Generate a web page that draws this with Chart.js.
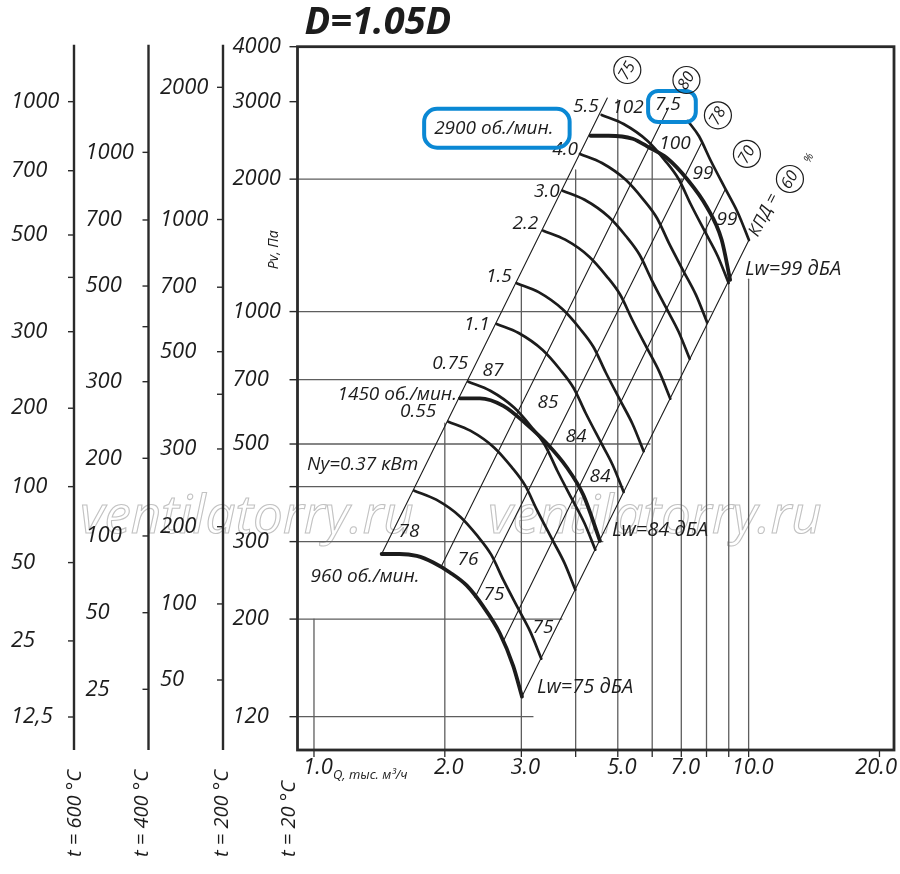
<!DOCTYPE html>
<html lang="ru">
<head>
<meta charset="utf-8">
<title>D=1.05D</title>
<script src="https://cdn.jsdelivr.net/npm/chart.js@4.4.1/dist/chart.umd.min.js"></script>
<style>
  html, body { margin: 0; padding: 0; background: #fff; }
  #chartBox { width: 900px; height: 874px; }
</style>
</head>
<body>
<div id="chartBox"><canvas id="fanChart" width="900" height="874"></canvas></div>
<script>
// 軸の範囲 (Q, тыс. м3/ч と Pv, Па)
const qMin = 0.9164, qMax = 21.6;
const pMin = 100.8, pMax = 4000;

// 回転数ごとの特性曲線
const q960 = [1.431, 1.574, 1.723, 1.881, 2.055, 2.245, 2.451, 2.678, 2.873, 3.010];
const p960 = [281.2, 281.2, 278.3, 269.0, 255.3, 238.5, 213.7, 185.5, 156.5, 133.3];
const q1450 = [2.167, 2.409, 2.726, 3.085, 3.430, 3.814, 4.164, 4.550];
const p1450 = [635.2, 635.2, 610.7, 554.3, 501.8, 442.7, 383.3, 301.3];
const q2900 = [4.330, 4.763, 5.409, 5.918, 6.476, 7.238, 8.006, 8.668, 9.066];
const p2900 = [2510, 2510, 2471, 2357, 2237, 1994, 1731, 1456, 1181];
const speedNames = ['960 об./мин.', '1450 об./мин.', '2900 об./мин.'];

// 電動機出力 Ny ごとの曲線
const qN037 = [1.701, 1.911, 2.170, 2.375, 2.557, 2.725, 2.951, 3.145, 3.334];
const pN037 = [391.7, 373.6, 341.8, 309.4, 280.2, 245.8, 211.2, 187.3, 162.6];
const qN055 = [2.037, 2.289, 2.599, 2.844, 3.062, 3.264, 3.534, 3.766, 3.992];
const pN055 = [562.0, 536.1, 490.5, 444.0, 402.0, 352.7, 303.1, 268.7, 233.3];
const qN075 = [2.265, 2.545, 2.890, 3.162, 3.405, 3.629, 3.929, 4.187, 4.439];
const pN075 = [692.8, 660.9, 604.6, 547.3, 495.6, 434.7, 373.6, 331.2, 287.6];
const qN110 = [2.632, 2.957, 3.358, 3.675, 3.957, 4.217, 4.566, 4.866, 5.158];
const pN110 = [937.2, 894.0, 817.9, 740.4, 670.4, 588.1, 505.4, 448.1, 389.0];
const qN150 = [2.926, 3.288, 3.733, 4.085, 4.399, 4.688, 5.076, 5.409, 5.734];
const pN150 = [1160, 1107, 1012, 916.4, 829.7, 727.9, 625.6, 554.6, 481.5];
const qN220 = [3.369, 3.785, 4.298, 4.704, 5.065, 5.398, 5.845, 6.228, 6.603];
const pN220 = [1527, 1457, 1333, 1206, 1092, 958.2, 823.5, 730.1, 633.9];
const qN300 = [3.733, 4.194, 4.763, 5.212, 5.612, 5.981, 6.476, 6.901, 7.316];
const pN300 = [1882, 1795, 1642, 1487, 1346, 1181, 1015, 899.8, 781.2];
const qN400 = [4.092, 4.598, 5.221, 5.713, 6.152, 6.556, 7.099, 7.565, 8.020];
const pN400 = [2281, 2176, 1991, 1802, 1632, 1431, 1230, 1091, 946.8];
const qN550 = [4.590, 5.157, 5.856, 6.409, 6.901, 7.354, 7.963, 8.486, 8.996];
const pN550 = [2798, 2669, 2442, 2210, 2001, 1756, 1509, 1338, 1161];
const qN750 = [7.248, 7.684, 8.189, 8.867, 9.449, 10.016];
const pN750 = [2711, 2506, 2199, 1890, 1675, 1454.5];
const powerNames = ['Ny=0.37 кВт', '0.55', '0.75', '1.1', '1.5', '2.2', '3.0', '4.0', '5.5'];
const label75Q = 6.522, label75P = 2948;

// 効率線 (КПД, %) の下端と上端
const effLabels = ['75', '80', '78', '70', '60'];
const effQ0 = [1.431, 1.957, 2.347, 2.726, 3.010];
const effP0 = [281.2, 262.0, 224.0, 178.0, 133.3];
const effQ1 = [4.730, 6.539, 7.808, 8.820, 10.016];
const effP1 = [3058, 2902, 2425, 1890, 1454.5];

// 騒音レベル Lw のラベル
const lwLabels = ['78', '76', '75', '75', '87', '85', '84', '84', '102', '100', '99', '99'];
const lwQ = [1.654, 2.261, 2.595, 3.364, 2.581, 3.454, 4.006, 4.549, 5.276, 6.770, 7.851, 8.914];
const lwP = [315.5, 272.5, 226.9, 190.9, 732.8, 619.7, 518.8, 420.7, 2902, 2404, 2054, 1615];
const lwTotalLabels = ['Lw=75 дБА', 'Lw=84 дБА', 'Lw=99 дБА'];
const lwTotalQ = [3.258, 4.847, 9.806];
const lwTotalP = [140.2, 318.9, 1250];

// 補助グリッド線
const hGridP = [2000, 1000, 700, 500, 400, 300, 200, 120];
const hGridEndQ = [7.06, 8.24, 7.03, 5.93, 5.14, 4.62, 3.72, 3.19];
const vGridQ = [1, 2, 3, 4, 5, 6, 7, 8, 9, 10];
const vGridTopP = [200, 558, 1149, 2098, 3030, 2305, 2000, 1641, 1180, 1185];

// 目盛り
const xTicks = [1, 2, 3, 4, 5, 6, 7, 8, 9, 10, 20];
const xTickLabels = ['1.0', '2.0', '3.0', '', '5.0', '', '7.0', '', '', '10.0', '20.0'];
const yTicks = [4000, 3000, 2000, 1000, 700, 500, 400, 300, 200, 120];
const yTickLabels = ['4000', '3000', '2000', '1000', '700', '500', '', '300', '200', '120'];

// 温度別の圧力目盛り (主軸上の位置 Pv で指定)
const t200Labels = ['2000', '1000', '700', '500', '', '300', '200', '100', '50'];
const t200At = [3234, 1619, 1136, 810.6, 648.7, 487.2, 324.4, 216.5, 145.4];
const t400Labels = ['1000', '700', '500', '', '300', '200', '100', '50', '25'];
const t400At = [2301, 1615, 1143, 924, 692.8, 464, 309, 206.8, 138.5];
const t600Labels = ['1000', '700', '500', '', '300', '200', '100', '50', '25', '12,5'];
const t600At = [3000, 2090, 1493, 1196, 900, 603, 400, 268.8, 178.4, 119.8];

const FONT = '"Open Sans", "Noto Sans", sans-serif';
const INK = '#1c1c1c';
const GRID_COLOR = '#5e5e5e';
const BLUE = '#0a88d4';
const WATERMARK = 'ventilatorry.ru';

// 折れ線データセットを作る関数
function makeLine(qs, ps, color, width, order, smooth) {
  return {
    data: qs.map((q, i) => ({ x: q, y: ps[i] })),
    showLine: true,
    borderColor: color,
    borderWidth: width,
    pointRadius: 0,
    fill: false,
    order: order,
    tension: 0,
    cubicInterpolationMode: smooth ? 'monotone' : 'default',
    borderCapStyle: 'round',
  };
}

function drawText(ctx, s, x, y, size, align, weight) {
  ctx.font = `italic ${weight || 'normal'} ${size}px ${FONT}`;
  ctx.textAlign = align || 'left';
  ctx.textBaseline = 'middle';
  ctx.fillStyle = INK;
  ctx.fillText(s, x, y);
  return ctx.measureText(s).width;
}

function drawRotated(ctx, s, x, y, angle, size, align) {
  ctx.save();
  ctx.translate(x, y);
  ctx.rotate(angle);
  drawText(ctx, s, 0, 0, size, align);
  ctx.restore();
}

function blueBox(ctx, x0, y0, x1, y1, r) {
  ctx.save();
  ctx.strokeStyle = BLUE;
  ctx.lineWidth = 4;
  ctx.beginPath();
  ctx.moveTo(x0 + r, y0);
  ctx.arcTo(x1, y0, x1, y1, r);
  ctx.arcTo(x1, y1, x0, y1, r);
  ctx.arcTo(x0, y1, x0, y0, r);
  ctx.arcTo(x0, y0, x1, y0, r);
  ctx.closePath();
  ctx.stroke();
  ctx.restore();
}

const speedQ = [q960, q1450, q2900];
const speedP = [p960, p1450, p2900];
const powerQ = [qN037, qN055, qN075, qN110, qN150, qN220, qN300, qN400, qN550, qN750];
const powerP = [pN037, pN055, pN075, pN110, pN150, pN220, pN300, pN400, pN550, pN750];

const datasets = [];
hGridP.forEach((p, i) => datasets.push(makeLine([qMin, hGridEndQ[i]], [p, p], GRID_COLOR, 1.3, 5)));
vGridQ.forEach((q, i) => datasets.push(makeLine([q, q], [pMin, vGridTopP[i]], GRID_COLOR, 1.3, 5)));
effLabels.forEach((_, i) => datasets.push(makeLine([effQ0[i], effQ1[i]], [effP0[i], effP1[i]], INK, 1.1, 4)));
powerQ.forEach((qs, i) => datasets.push(makeLine(qs, powerP[i], INK, 2.7, 3, true)));
speedQ.forEach((qs, i) => datasets.push(makeLine(qs, speedP[i], INK, 3.8, 1, true)));

// 文字や軸を描くプラグイン
const nomogramPlugin = {
  id: 'nomogram',
  beforeDatasetsDraw(chart) {
    const ctx = chart.ctx;
    ctx.save();
    ctx.font = `italic 53px ${FONT}`;
    ctx.strokeStyle = '#c2c2c2';
    ctx.lineWidth = 1.1;
    ctx.textAlign = 'left';
    ctx.textBaseline = 'alphabetic';
    ctx.strokeText(WATERMARK, 80, 533);
    ctx.strokeText(WATERMARK, 488, 533);
    ctx.restore();
  },
  afterDatasetsDraw(chart) {
    const ctx = chart.ctx;
    const area = chart.chartArea;
    const sx = chart.scales.x;
    const sy = chart.scales.y;
    const at = (q, p) => [sx.getPixelForValue(q), sy.getPixelForValue(p)];
    ctx.save();
    ctx.strokeStyle = '#2a2a2a';

    // 枠
    ctx.lineWidth = 2.8;
    ctx.strokeRect(area.left, area.top, area.right - area.left, area.bottom - area.top);

    // Y軸 (t = 20 °C)
    ctx.lineWidth = 1.4;
    yTicks.forEach((v, i) => {
      const y = sy.getPixelForValue(v);
      ctx.beginPath(); ctx.moveTo(area.left - 8, y); ctx.lineTo(area.left, y); ctx.stroke();
      if (yTickLabels[i]) drawText(ctx, yTickLabels[i], area.left - 65, y, 22, 'left');
    });

    // 温度別の軸
    const tempAxes = [[t200Labels, t200At], [t400Labels, t400At], [t600Labels, t600At]];
    const tempTitles = ['t = 200 °C', 't = 400 °C', 't = 600 °C'];
    const titleShift = [-1, -6, 1];
    tempAxes.forEach(([labels, pos], k) => {
      const ax = area.left - 74.5 * (k + 1);
      ctx.lineWidth = 2.4;
      ctx.beginPath(); ctx.moveTo(ax, area.top - 2); ctx.lineTo(ax, area.bottom); ctx.stroke();
      ctx.lineWidth = 1.4;
      pos.forEach((p, i) => {
        const y = sy.getPixelForValue(p);
        ctx.beginPath(); ctx.moveTo(ax - 6, y); ctx.lineTo(ax, y); ctx.stroke();
        if (labels[i]) drawText(ctx, labels[i], ax - 63, y, 22, 'left');
      });
      drawRotated(ctx, tempTitles[k], ax + titleShift[k], area.bottom + 107, -Math.PI / 2, 20, 'left');
    });
    drawRotated(ctx, 't = 20 °C', area.left - 8, area.bottom + 107, -Math.PI / 2, 20, 'left');
    drawRotated(ctx, 'Pv, Па', area.left - 23, area.top + 203, -Math.PI / 2, 14, 'center');

    // X軸
    ctx.lineWidth = 1.3;
    xTicks.forEach((v, i) => {
      const x = sx.getPixelForValue(v);
      ctx.beginPath(); ctx.moveTo(x, area.bottom); ctx.lineTo(x, area.bottom + 7); ctx.stroke();
      if (xTickLabels[i]) {
        ctx.font = `italic 22px ${FONT}`;
        const w = ctx.measureText(xTickLabels[i]).width;
        drawText(ctx, xTickLabels[i], Math.min(x + 4, 897 - w / 2), area.bottom + 18, 22, 'center');
      }
    });
    drawText(ctx, 'Q, тыс. м³/ч', sx.getPixelForValue(1) + 19, area.bottom + 25, 13, 'left');

    // タイトル
    drawText(ctx, 'D=1.05D', area.left + 7, area.top - 24, 38, 'left', 'bold');

    // 出力ラベル
    const powerShift = [[4, -26], [-12, -10], [0, -18], [-7, 1], [-5, -7], [-5, -7], [-3, 1], [-2, -4], [-3, -8]];
    powerNames.forEach((s, i) => {
      const [x, y] = at(powerQ[i][0], powerP[i][0]);
      drawText(ctx, s, x + powerShift[i][0], y + powerShift[i][1], 19, 'right');
    });
    const [lx, ly] = at(label75Q, label75P);
    const w75 = drawText(ctx, '7.5', lx, ly, 19, 'center');
    blueBox(ctx, lx - w75 / 2 - 7, ly - 14, lx + w75 / 2 + 15, ly + 17, 10);

    // 回転数ラベル
    const speedShift = [[38, 23], [-3, -4], [-37, -7]];
    speedNames.forEach((s, i) => {
      const [x, y] = at(speedQ[i][0], speedP[i][0]);
      const tx = x + speedShift[i][0], ty = y + speedShift[i][1];
      const w = drawText(ctx, s, tx, ty, 19, 'right');
      if (i === 2) blueBox(ctx, tx - w - 10, ty - 20, tx + 16, ty + 19, 13);
    });

    // 騒音ラベル
    lwLabels.forEach((s, i) => {
      const [x, y] = at(lwQ[i], lwP[i]);
      drawText(ctx, s, x, y, 19, 'center');
    });
    lwTotalLabels.forEach((s, i) => {
      const [x, y] = at(lwTotalQ[i], lwTotalP[i]);
      drawText(ctx, s, x, y, 20, 'left');
    });

    // 効率の丸ラベル
    const circleShift = [[20, -28], [18, -28], [16, -27], [22, -36], [41, -61]];
    ctx.strokeStyle = INK;
    effLabels.forEach((s, i) => {
      const [x0, y0] = at(effQ1[i], effP1[i]);
      const cx = x0 + circleShift[i][0], cy = y0 + circleShift[i][1];
      ctx.lineWidth = 1.2;
      ctx.beginPath(); ctx.arc(cx, cy, 13.5, 0, Math.PI * 2); ctx.stroke();
      drawRotated(ctx, s, cx, cy + 1, -Math.PI / 3, 16, 'center');
    });
    const [ex, ey] = at(effQ1[4], effP1[4]);
    drawRotated(ctx, 'КПД =', ex + 15, ey - 25, -1.1, 17, 'center');
    drawRotated(ctx, '%', ex + 60, ey - 82, -1.1, 11, 'center');

    ctx.restore();
  },
};

window.addEventListener('DOMContentLoaded', () => {
  const ctx = document.getElementById('fanChart').getContext('2d');
  new Chart(ctx, {
    type: 'scatter',
    data: { datasets: datasets },
    options: {
      responsive: false,
      animation: false,
      layout: { padding: { left: 297.5, right: 6, top: 46.7, bottom: 124 } },
      plugins: { legend: { display: false }, tooltip: { enabled: false } },
      scales: {
        x: { type: 'logarithmic', min: qMin, max: qMax, display: false },
        y: { type: 'logarithmic', min: pMin, max: pMax, display: false },
      },
    },
    plugins: [nomogramPlugin],
  });
});
</script>
</body>
</html>
